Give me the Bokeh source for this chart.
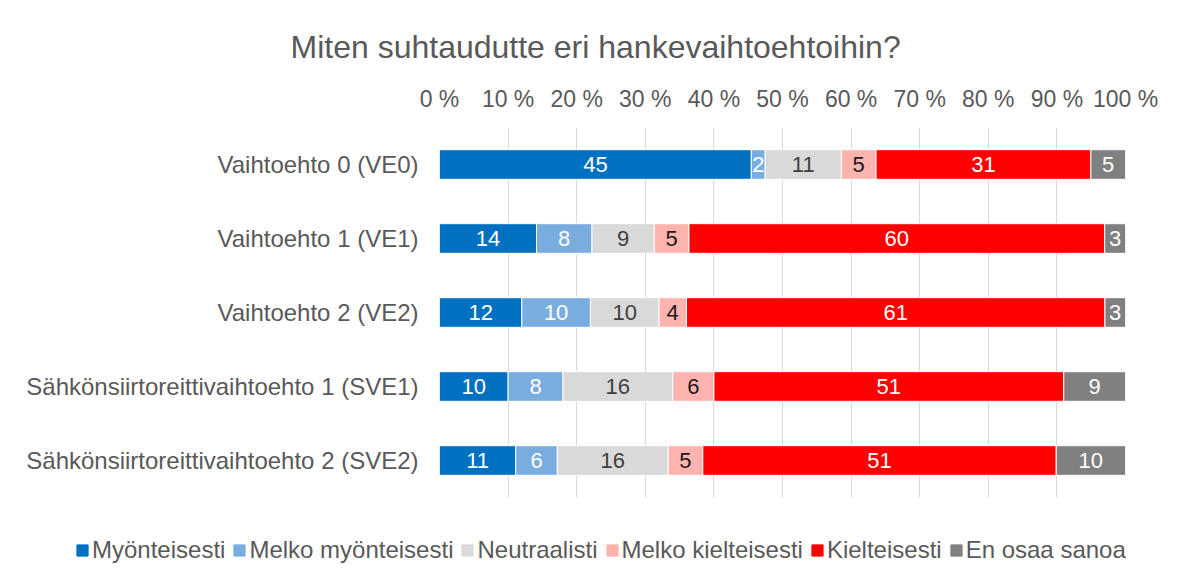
from bokeh.plotting import figure
from bokeh.models import ColumnDataSource, FixedTicker, Legend, LegendItem, FactorRange
from bokeh.layouts import column, row
from bokeh.embed import file_html
from bokeh.resources import INLINE
from bokeh.core.properties import value

categories = [
    "Vaihtoehto 0 (VE0)",
    "Vaihtoehto 1 (VE1)",
    "Vaihtoehto 2 (VE2)",
    "Sähkönsiirtoreittivaihtoehto 1 (SVE1)",
    "Sähkönsiirtoreittivaihtoehto 2 (SVE2)",
]
series_names = ["Myönteisesti", "Melko myönteisesti", "Neutraalisti",
                "Melko kielteisesti", "Kielteisesti", "En osaa sanoa"]
myonteisesti = [45, 14, 12, 10, 11]
melko_myonteisesti = [2, 8, 10, 8, 6]
neutraalisti = [11, 9, 10, 16, 16]
melko_kielteisesti = [5, 5, 4, 6, 5]
kielteisesti = [31, 60, 61, 51, 51]
en_osaa_sanoa = [5, 3, 3, 9, 10]
tick_values = [0, 10, 20, 30, 40, 50, 60, 70, 80, 90, 100]
tick_labels = ["0 %", "10 %", "20 %", "30 %", "40 %", "50 %", "60 %", "70 %", "80 %", "90 %", "100 %"]

colors = ["#0070C0", "#7AADDF", "#D9D9D9", "#FFB3AF", "#FF0000", "#808080"]
label_colors = ["#FFFFFF", "#FFFFFF", "#404040", "#1A1A1A", "#FFFFFF", "#FFFFFF"]

FONT = "Liberation Sans"
GREY = "#595959"
W = 1180

series = [myonteisesti, melko_myonteisesti, neutraalisti, melko_kielteisesti, kielteisesti, en_osaa_sanoa]
keys = ["s%d" % i for i in range(len(series))]

totals = [sum(s[j] for s in series) for j in range(len(categories))]
data = {"cat": categories}
for k, s in zip(keys, series):
    data[k] = [v / t * 100 for v, t in zip(s, totals)]
source = ColumnDataSource(data)

p = figure(width=W, height=521, y_range=FactorRange(*reversed(categories), range_padding=0),
           x_range=(0, 100), x_axis_location="above",
           output_backend="svg", toolbar_location=None,
           min_border_left=439, min_border_right=W - 1125, min_border_top=127, min_border_bottom=24)

renderers = p.hbar_stack(keys, y="cat", height=0.4, color=colors, source=source,
                         line_color="white", line_width=1)

# value labels
lx, ly, lt, lc = [], [], [], []
for j, c in enumerate(categories):
    cum = 0
    for i, k in enumerate(keys):
        w = data[k][j]
        lx.append(cum + w / 2)
        ly.append(c)
        lt.append(str(series[i][j]))
        lc.append(label_colors[i])
        cum += w
lsrc = ColumnDataSource(dict(x=lx, y=ly, t=lt, c=lc))
p.text(x="x", y="y", text="t", text_color="c", source=lsrc, text_align="center",
       text_baseline="middle", text_font=value(FONT), text_font_size="22px")

# axes
xa = p.xaxis[0]
xa.ticker = FixedTicker(ticks=tick_values)
xa.major_label_overrides = {v: l for v, l in zip(tick_values, tick_labels)}
xa.major_label_text_font = FONT
xa.major_label_text_font_size = "23px"
xa.major_label_text_color = GREY
xa.axis_line_color = None
xa.major_tick_line_color = None
xa.minor_tick_line_color = None
xa.major_tick_out = 0
xa.major_tick_in = 0
xa.major_label_standoff = 16

ya = p.yaxis[0]
ya.major_label_text_font = FONT
ya.major_label_text_font_size = "24px"
ya.major_label_text_color = GREY
ya.axis_line_color = None
ya.major_tick_line_color = None
ya.major_tick_out = 0
ya.major_tick_in = 0
ya.major_label_standoff = 21

p.xgrid.ticker = FixedTicker(ticks=tick_values)
p.xgrid.grid_line_color = "#D9D9D9"
p.xgrid.grid_line_width = 1
p.ygrid.grid_line_color = None
p.outline_line_color = None

p.title.text = "Miten suhtaudutte eri hankevaihtoehtoihin?"
p.title.text_font = FONT
p.title.text_font_size = "32px"
p.title.text_font_style = "normal"
p.title.text_color = GREY
p.title.align = "left"
p.title.offset = -149
p.title.standoff = 36

# legend in its own strip below
lg = figure(width=W, height=56, x_range=(0, 1), y_range=(0, 1),
            x_axis_location=None, y_axis_location=None,
            output_backend="svg", toolbar_location=None,
            min_border_left=0, min_border_right=0, min_border_top=0, min_border_bottom=0)
lg.grid.grid_line_color = None
lg.outline_line_color = None
dummy_src = ColumnDataSource(dict(y=[5], l=[5], r=[6]))
dummies = [lg.hbar(y="y", left="l", right="r", height=0.5, color=c, source=dummy_src) for c in colors]
legend = Legend(items=[LegendItem(label=n, renderers=[r]) for n, r in zip(series_names, dummies)],
                orientation="horizontal", location=(75, 13),
                label_text_font=FONT, label_text_font_size="24px", label_text_color=GREY,
                glyph_width=14, glyph_height=14, label_standoff=3, spacing=7,
                padding=0, margin=0, border_line_alpha=0, background_fill_alpha=0)
lg.add_layout(legend, "center")

layout = column(p, row(lg), spacing=0)
open("out.html", "w").write(file_html(layout, INLINE))
